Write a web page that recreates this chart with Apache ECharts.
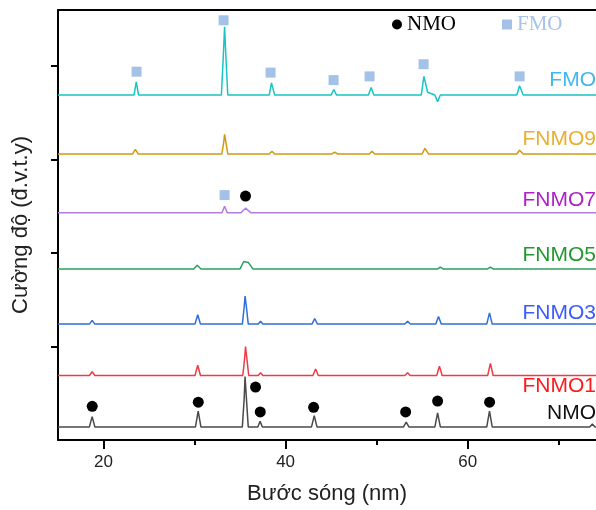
<!DOCTYPE html>
<html>
<head>
<meta charset="utf-8">
<script src="https://cdn.jsdelivr.net/npm/echarts@6/dist/echarts.min.js"></script>
<style>
  html, body { margin: 0; padding: 0; background: #fff; }
  #chart { width: 596px; height: 510px; }
</style>
</head>
<body>
<div id="chart"></div>
<script>
// raw XRD patterns, [2theta, intensity] before stacking
const nmoPts = [[15,0],[18.45,0],[18.75,11],[19.05,0],[30.1,0],[30.4,17],[30.7,0],[35.25,0],[35.45,30],[35.55,54],[35.7,30],[35.9,0],[36.95,0],[37.2,6],[37.45,0],[42.85,0],[43.15,12],[43.45,0],[52.95,0],[53.25,5],[53.55,0],[56.4,0],[56.7,15],[57.0,0],[62.1,0],[62.4,17],[62.7,0],[73.4,0],[73.7,3],[74.0,0],[74.1,0]]
const fnmo1Pts = [[15,0],[18.45,0],[18.75,4],[19.05,0],[30.05,0],[30.35,11],[30.65,0],[35.3,0],[35.5,18],[35.6,31],[35.75,18],[35.95,0],[37.0,0],[37.25,3],[37.5,0],[43.0,0],[43.3,7],[43.6,0],[53.1,0],[53.4,3],[53.7,0],[56.6,0],[56.9,10],[57.2,0],[62.2,0],[62.5,13],[62.8,0],[74.1,0]]
const fnmo3Pts = [[15,0],[18.45,0],[18.75,4],[19.05,0],[30.05,0],[30.35,10],[30.65,0],[35.25,0],[35.45,18],[35.55,30],[35.7,18],[35.9,0],[37.0,0],[37.25,3],[37.5,0],[42.9,0],[43.2,6],[43.5,0],[53.1,0],[53.4,3],[53.7,0],[56.5,0],[56.8,8],[57.1,0],[62.1,0],[62.4,12],[62.7,0],[74.1,0]]
const fnmo5Pts = [[15,0],[18.5,0],[18.7,2],[18.9,0],[29.9,0],[30.3,4],[30.7,0],[35.0,0],[35.4,8],[35.6,10],[35.9,7],[36.4,0],[56.7,0],[57.0,2],[57.3,0],[62.2,0],[62.5,2],[62.8,0],[74.1,0]]
const fnmo7Pts = [[15,0],[33.0,0],[33.3,7],[33.6,0],[35.1,0],[35.6,5],[36.2,0],[74.1,0]]
const fnmo9Pts = [[15,0],[23.2,0],[23.5,5],[23.8,0],[33.0,0],[33.2,12],[33.3,21],[33.45,12],[33.65,0],[38.2,0],[38.5,3],[38.8,0],[45.1,0],[45.4,2],[45.7,0],[49.2,0],[49.5,3],[49.8,0],[55.0,0],[55.3,6],[55.7,0],[65.4,0],[65.7,4],[66.1,0],[74.1,0]]
const fmoPts = [[15,0],[23.35,0],[23.6,14],[23.85,0],[32.95,0],[33.15,40],[33.3,73],[33.45,40],[33.65,0],[38.2,0],[38.45,13],[38.8,0],[45.0,0],[45.3,6],[45.6,0],[49.1,0],[49.4,8],[49.7,0],[54.9,0],[55.2,20],[55.6,3],[56.4,0],[56.7,-7],[57.0,0],[65.4,0],[65.7,10],[66.1,0],[74.1,0]]

const sampleNames = ['NMO', 'FNMO1', 'FNMO3', 'FNMO5', 'FNMO7', 'FNMO9', 'FMO']
const samplePts = [nmoPts, fnmo1Pts, fnmo3Pts, fnmo5Pts, fnmo7Pts, fnmo9Pts, fmoPts]
const offsets = [14, 69, 124, 183, 243, 306, 369]
const lineColors = ['#4a4a4a', '#ee3b45', '#2f6fd8', '#2e9e5e', '#b27ddf', '#d09a10', '#19c4c4']
const labelColors = ['#111111', '#ff1a1a', '#3b5bff', '#22992e', '#b020c8', '#e8b030', '#40b8f0']
const labelY = [413, 386, 313, 255, 200, 139, 80]

// phase markers (already placed on the stacked scale)
const nmoMarks = [[18.76,36],[30.41,40.5],[36.7,56.6],[37.22,30],[43.08,35],[53.19,30],[56.7,41.6],[62.41,40.5],[35.6,261]]
const fmoMarks = [[23.63,394],[33.19,449],[38.35,393],[45.27,385],[49.23,389],[55.16,402],[65.71,389],[33.3,262]]

const xTicks = [20, 40, 60]
const xMinorTicks = [30, 50, 70]
const yTicks = [100, 200, 300, 400]

const sansFont = '"Liberation Sans", Arial, sans-serif'
const serifFont = '"Liberation Serif", "Times New Roman", serif'

let chart = echarts.init(document.getElementById('chart'))

let series = samplePts.map((pts, i) => ({
    name: sampleNames[i] + '-xrd',
    type: 'line',
    showSymbol: false,
    silent: true,
    lineStyle: {color: lineColors[i], width: 1.5},
    data: pts.map(p => [p[0], p[1] + offsets[i]])
}))
series.push({
    name: 'NMO', type: 'scatter', symbol: 'circle', symbolSize: 11,
    itemStyle: {color: '#000', opacity: 1}, z: 5, data: nmoMarks
})
series.push({
    name: 'FMO', type: 'scatter', symbol: 'rect', symbolSize: 10,
    itemStyle: {color: '#a4c2e8', opacity: 1}, z: 5, data: fmoMarks
})

chart.setOption({
    animation: false,
    grid: {left: 58, top: 10, right: 0, bottom: 69},
    legend: {
        left: 387, top: 9, itemWidth: 10, itemHeight: 10, itemGap: 46, selectedMode: false,
        textStyle: {fontFamily: serifFont, fontSize: 21},
        data: [
            {name: 'NMO', icon: 'circle', textStyle: {color: '#000'}},
            {name: 'FMO', icon: 'rect', textStyle: {color: '#a7c3e6'}}
        ]
    },
    xAxis: [{
        type: 'value', min: 15, max: 74.1,
        name: 'Bước sóng (nm)', nameLocation: 'middle', nameGap: 43,
        nameTextStyle: {fontFamily: sansFont, fontSize: 22, color: '#222'},
        axisLine: {lineStyle: {color: '#000', width: 2}},
        axisTick: {show: true, inside: false, length: 9, customValues: xTicks, lineStyle: {color: '#000', width: 2}},
        axisLabel: {customValues: xTicks, margin: 14, fontFamily: sansFont, fontSize: 17, color: '#222'},
        splitLine: {show: false}
    }, {
        type: 'value', min: 15, max: 74.1, position: 'bottom',
        axisLine: {show: false},
        axisTick: {show: true, inside: false, length: 5, customValues: xMinorTicks, lineStyle: {color: '#000', width: 2}},
        axisLabel: {show: false},
        splitLine: {show: false}
    }, {
        type: 'value', min: 15, max: 74.1, position: 'top',
        axisLine: {show: true, lineStyle: {color: '#000', width: 2}},
        axisTick: {show: false},
        axisLabel: {show: false},
        splitLine: {show: false}
    }],
    yAxis: {
        type: 'value', min: 0, max: 460,
        name: 'Cường độ (đ.v.t.y)', nameLocation: 'middle', nameGap: 26,
        nameTextStyle: {fontFamily: sansFont, fontSize: 22, color: '#222'},
        axisLine: {show: true, lineStyle: {color: '#000', width: 2}},
        axisTick: {show: true, inside: false, length: 7, customValues: yTicks, lineStyle: {color: '#000', width: 2}},
        axisLabel: {show: false},
        splitLine: {show: false}
    },
    graphic: sampleNames.map((n, i) => ({
        type: 'text', x: 596, y: labelY[i], silent: true,
        style: {text: n, fill: labelColors[i], font: '21px ' + sansFont, align: 'right', verticalAlign: 'middle'}
    })),
    series: series
})
</script>
</body>
</html>
